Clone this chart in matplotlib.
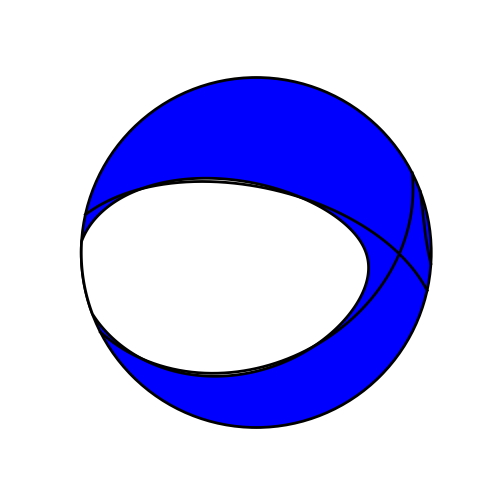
import numpy as np
import matplotlib
matplotlib.use('Agg')
import matplotlib.pyplot as plt
from matplotlib.patches import Circle, Polygon

# Moment tensor (USE basis): Mrr, Mtt, Mpp, Mrt, Mrp, Mtp
mt_components = ["Mrr", "Mtt", "Mpp", "Mrt", "Mrp", "Mtp"]
mt_values = [-0.8000, 0.8078, -0.0197, 0.3754, -0.3184, 0.1254]
face_color = "blue"
background_color = "white"
edge_color = "black"

mrr, mtt, mpp, mrt, mrp, mtp = mt_values
# convert to North-East-Down basis
M = np.array([[mtt, -mtp, mrt],
              [-mtp, mpp, -mrp],
              [mrt, -mrp, mrr]])

w, V = np.linalg.eigh(M)
lamP, lamN, lamT = w
Pv, Nv, Tv = V[:, 0], V[:, 1], V[:, 2]
if Pv[2] < 0:
    Pv = -Pv


def proj(n):
    """Lower-hemisphere equal-area projection of unit vectors (N, E, D)."""
    n = np.where(n[:, 2:3] < 0, -n, n)
    inc = np.arccos(np.clip(n[:, 2], -1, 1))
    az = np.arctan2(n[:, 1], n[:, 0])
    r = np.sqrt(2) * np.sin(inc / 2)
    return r * np.sin(az), r * np.cos(az)


fig = plt.figure(figsize=(5, 5), dpi=100)
ax = fig.add_subplot(111, aspect='equal')
ax.set_xlim(-1.1, 1.1)
ax.set_ylim(-1.1, 1.1)
ax.axis('off')

# nodal cone around the P axis
phi = np.linspace(0, 2 * np.pi, 1441)
th = np.arctan(np.sqrt(-lamP / (lamT * np.cos(phi) ** 2 + lamN * np.sin(phi) ** 2)))
loop = (np.outer(np.cos(th), Pv) + np.outer(np.sin(th) * np.cos(phi), Tv)
        + np.outer(np.sin(th) * np.sin(phi), Nv))
up = loop[:, 2] < 0
lx, ly = proj(loop)
az = np.arctan2(loop[:, 1], loop[:, 0])
fx = np.where(up, np.sin(az), lx)
fy = np.where(up, np.cos(az), ly)

ax.add_patch(Circle((0, 0), 1, fc=face_color, ec=edge_color, lw=2, zorder=1))
ax.add_patch(Polygon(np.column_stack([fx, fy]), closed=True,
                     fc=background_color, ec=edge_color, lw=2, zorder=2))
ax.plot(np.where(up, lx, np.nan), np.where(up, ly, np.nan),
        color=edge_color, lw=2, zorder=3)

# nodal planes of the double couple
for pl in ((Tv + Pv) / np.sqrt(2), (Tv - Pv) / np.sqrt(2)):
    s = np.cross(pl, [0, 0, 1.0])
    s /= np.linalg.norm(s)
    d = np.cross(pl, s)
    if d[2] < 0:
        d = -d
    t = np.linspace(0, np.pi, 400)
    gx, gy = proj(np.outer(np.cos(t), s) + np.outer(np.sin(t), d))
    ax.plot(gx, gy, color=edge_color, lw=2, zorder=3)

fig.savefig('out.png')
